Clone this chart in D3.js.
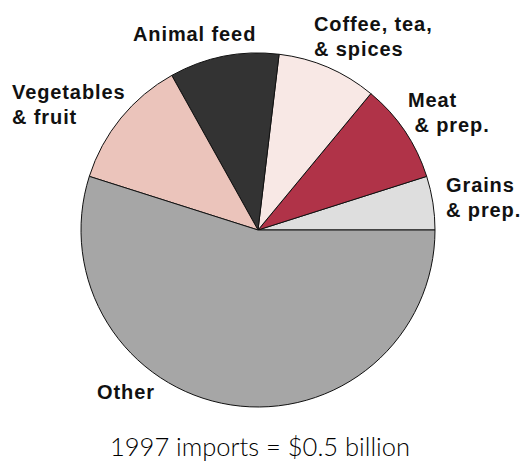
<!DOCTYPE html>
<html>
<head>
<meta charset="utf-8">
<script src="https://cdn.jsdelivr.net/npm/d3@7"></script>
<style>
  html, body { margin: 0; padding: 0; background: #fff; }
  svg { display: block; }
  .lbl { font-family: "Liberation Sans", Arial, sans-serif; font-weight: bold; font-size: 20px; fill: #111; letter-spacing: 0.9px; }
  .note { font-family: Lato, "Open Sans", sans-serif; font-weight: 300; font-size: 25.5px; fill: #000; }
</style>
</head>
<body>
<svg id="chart" width="523" height="461"></svg>
<script>
// Food import shares, listed counterclockwise from the 3 o'clock position
const categories = ["Grains & prep.", "Meat & prep.", "Coffee, tea, & spices", "Animal feed", "Vegetables & fruit", "Other"];
const shares = [4.9, 9.1, 9.1, 10.0, 12.0, 54.9];
const colors = ["#dedede", "#b03348", "#f8e8e5", "#333333", "#ebc4bb", "#a6a6a6"];

// Label lines and their anchor positions
const labelLines = [
  ["Grains", "& prep."],
  ["Meat", " & prep."],
  ["Coffee, tea,", "& spices"],
  ["Animal feed"],
  ["Vegetables", "& fruit"],
  ["Other"]
];
const labelPos = [[446, 192], [408, 107], [314, 31], [133, 41], [12, 99], [97, 399]];
const caption = "1997 imports = $0.5 billion";

const svg = d3.select("#chart");
const cx = 258, cy = 230, r = 177;

const pie = d3.pie()
  .sort(null)
  .value(d => d)
  .startAngle(Math.PI / 2)
  .endAngle(Math.PI / 2 - 2 * Math.PI);

const arc = d3.arc().innerRadius(0).outerRadius(r);

const g = svg.append("g").attr("transform", `translate(${cx},${cy})`);
g.selectAll("path")
  .data(pie(shares))
  .join("path")
  .attr("d", arc)
  .attr("fill", (d, i) => colors[i])
  .attr("stroke", "#111")
  .attr("stroke-width", 1)
  .attr("stroke-linejoin", "round");

labelLines.forEach((lines, i) => {
  const t = svg.append("text").attr("class", "lbl")
    .attr("x", labelPos[i][0]).attr("y", labelPos[i][1]);
  lines.forEach((s, j) => {
    t.append("tspan")
      .attr("x", labelPos[i][0])
      .attr("dy", j === 0 ? 0 : 25)
      .attr("xml:space", "preserve")
      .text(s);
  });
});

svg.append("text").attr("class", "note")
  .attr("x", 260).attr("y", 456)
  .attr("text-anchor", "middle")
  .text(caption);
</script>
</body>
</html>
